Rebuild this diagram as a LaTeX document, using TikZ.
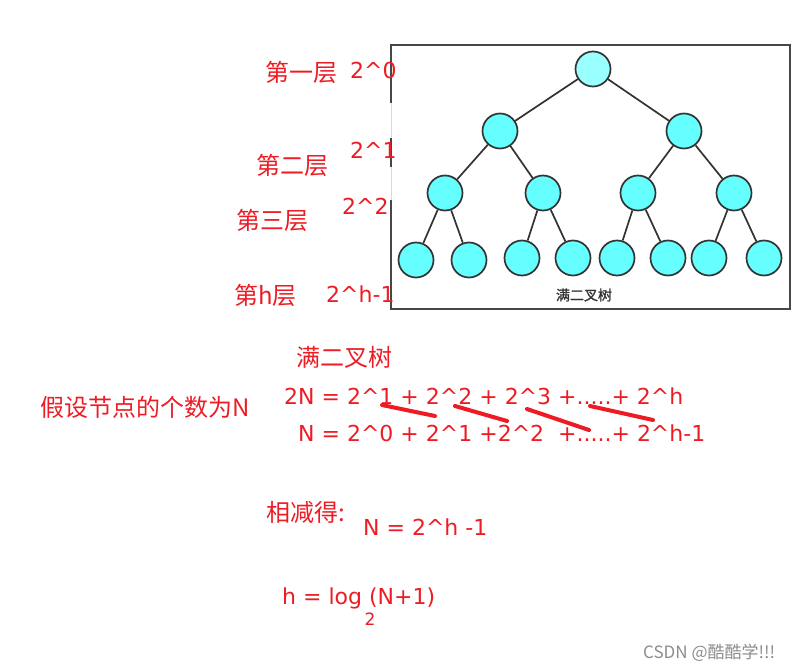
\documentclass[tikz,border=0pt]{standalone}
\usepackage{fontspec}
\setmainfont{DejaVu Sans}
\newfontfamily\cjk{Noto Sans CJK SC}
\newfontfamily\cjkbold[FakeBold=1.5]{Noto Sans CJK SC}
\usetikzlibrary{positioning}
\definecolor{notered}{RGB}{237,28,36}
\definecolor{treecyan}{RGB}{102,255,255}
\definecolor{rootcyan}{RGB}{153,255,255}
\definecolor{edgegray}{RGB}{51,51,51}
\newcommand{\zh}[1]{{\cjk\fontsize{24}{28}\selectfont #1}}
\tikzset{
    treenode/.style={
        draw=edgegray,
        circle,
        fill=treecyan,
        line width=1.7pt,
        minimum size=35pt,
        inner sep=0pt
    },
    rootnode/.style={
        treenode,
        fill=rootcyan
    },
    treeedge/.style={
        draw=edgegray,
        line width=1.7pt
    },
    frame/.style={
        draw=edgegray!90,
        line width=2pt
    },
    note/.style={
        text=notered,
        inner sep=0pt,
        anchor=west,
        font=\fontsize{22}{26}\selectfont
    },
    strike/.style={
        draw=notered,
        line width=4pt,
        line cap=round
    },
}

\begin{document}
\begin{tikzpicture}[x=1pt, y=-1pt]
    \useasboundingbox (0,0) rectangle (792,671);
    % frame of the tree picture
    \coordinate (tl) at (391,45);
    \coordinate (tr) at (790,45);
    \coordinate (br) at (790,309);
    \coordinate (bl) at (391,309);
    \draw[draw=black!15, line width=1pt] (tl) -- (bl);
    \draw[frame] (391,103) -- (tl) -- (tr) -- (br) -- (bl) -- (391,200);
    \draw[frame] (391,138) -- (391,167);

    % tree nodes
    \node[rootnode] (root) at (593,69) {};
    \node[treenode] (l) at (500,131) {};
    \node[treenode] (r) at (684,131) {};
    \node[treenode] (ll) at (445,193) {};
    \node[treenode] (lr) at (543,193) {};
    \node[treenode] (rl) at (638,193) {};
    \node[treenode] (rr) at (734,193) {};
    \node[treenode] (lll) at (416,260) {};
    \node[treenode] (llr) at (469,260) {};
    \node[treenode] (lrl) at (522,258) {};
    \node[treenode] (lrr) at (573,258) {};
    \node[treenode] (rll) at (617,258) {};
    \node[treenode] (rlr) at (668,258) {};
    \node[treenode] (rrl) at (709,258) {};
    \node[treenode] (rrr) at (764,258) {};
    \node[text=edgegray, font=\cjkbold\fontsize{14}{16}\selectfont] (caption) at (584,295) {满二叉树};

    % tree edges
    \draw[treeedge] (root) -- (l);
    \draw[treeedge] (root) -- (r);
    \draw[treeedge] (l) -- (ll);
    \draw[treeedge] (l) -- (lr);
    \draw[treeedge] (r) -- (rl);
    \draw[treeedge] (r) -- (rr);
    \draw[treeedge] (ll) -- (lll);
    \draw[treeedge] (ll) -- (llr);
    \draw[treeedge] (lr) -- (lrl);
    \draw[treeedge] (lr) -- (lrr);
    \draw[treeedge] (rl) -- (rll);
    \draw[treeedge] (rl) -- (rlr);
    \draw[treeedge] (rr) -- (rrl);
    \draw[treeedge] (rr) -- (rrr);

    % level labels
    \node[note] (lvone) at (265,72) {\zh{第一层}};
    \node[note] (powone) at (350,70) {2\^{}0};
    \node[note] (lvtwo) at (256,165) {\zh{第二层}};
    \node[note] (powtwo) at (350,150) {2\^{}1};
    \node[note] (lvthree) at (236,220) {\zh{第三层}};
    \node[note] (powthree) at (342,206) {2\^{}2};
    \node[note] (lvh) at (234,295) {\zh{第h层}};
    \node[note] (powh) at (326,294) {2\^{}h-1};

    % derivation
    \node[note] (title) at (296,357) {\zh{满二叉树}};
    \node[note] (assume) at (40,407) {\zh{假设节点的个数为N}};
    \node[note] (twice) at (284,396) {2N = 2\^{}1 + 2\^{}2 + 2\^{}3 +.....+ 2\^{}h};
    \node[note] (once) at (298,433) {N = 2\^{}0 + 2\^{}1 +2\^{}2 \ +.....+ 2\^{}h-1};
    \node[note] (subtract) at (266,512) {\zh{相减得:}};
    \node[note] (result) at (363,527) {N = 2\^{}h -1};
    \node[note] (height) at (282,598) {h = log (N+1)};
    \node[text=notered, inner sep=0pt, font=\fontsize{17}{19}\selectfont] (base) at (370,619) {2};

    % strike lines
    \coordinate (sa) at (382,405);
    \coordinate (sb) at (435,416);
    \coordinate (sc) at (455,406);
    \coordinate (sd) at (507,421);
    \coordinate (se) at (527,409);
    \coordinate (sf) at (589,430);
    \coordinate (sg) at (590,406);
    \coordinate (sh) at (653,420);
    \draw[strike] (sa) -- (sb);
    \draw[strike] (sc) -- (sd);
    \draw[strike] (se) -- (sf);
    \draw[strike] (sg) -- (sh);

    % watermark
    \node[text=black!45, inner sep=0pt, anchor=west, font=\cjk\fontsize{17}{19}\selectfont] (mark) at (643,653) {CSDN @酷酷学!!!};
\end{tikzpicture}
\end{document}
